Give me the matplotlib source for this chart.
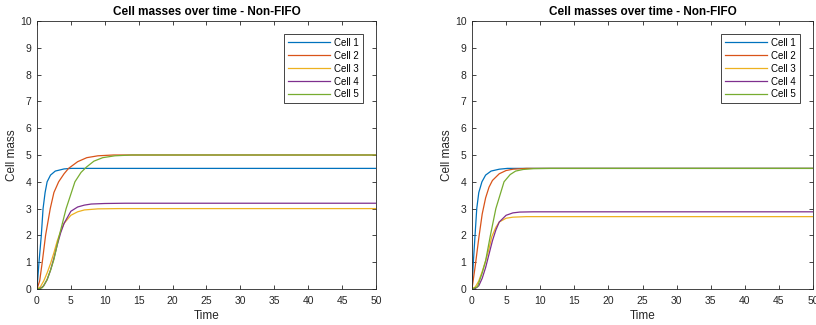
import matplotlib
matplotlib.use('Agg')
import matplotlib.pyplot as plt

plt.rcParams['font.family'] = ['Liberation Sans', 'DejaVu Sans']

# values (time, mass), left panel
t_left_c1 = [0, 0.3, 0.64, 0.9, 1.2, 1.5, 2, 2.7, 4, 5, 50]
left_c1 = [0, 1.0, 2.0, 3.0, 3.6, 4.0, 4.25, 4.4, 4.48, 4.5, 4.5]
t_left_c2 = [0, 0.4, 0.78, 1.27, 1.96, 2.5, 3.2, 4, 4.66, 6, 7.35, 9, 11.3, 50]
left_c2 = [0, 0.3, 1.0, 2.0, 3.0, 3.6, 4.0, 4.3, 4.5, 4.75, 4.9, 4.97, 5.0, 5.0]
t_left_c3 = [0, 0.5, 1, 1.5, 2, 2.5, 3, 3.5, 4, 5, 6, 7, 9, 12, 50]
left_c3 = [0, 0.08, 0.3, 0.6, 0.95, 1.35, 1.8, 2.15, 2.45, 2.75, 2.88, 2.95, 2.99, 3.0, 3.0]
t_left_c4 = [0, 0.5, 1, 1.5, 2, 2.5, 3, 3.5, 4, 5, 6, 7, 8, 10, 13, 50]
left_c4 = [0, 0.02, 0.12, 0.35, 0.7, 1.15, 1.65, 2.1, 2.45, 2.9, 3.06, 3.13, 3.17, 3.19, 3.2, 3.2]
t_left_c5 = [0, 0.8, 1.5, 2, 2.5, 3.2, 4.3, 5.6, 6.5, 7.3, 8.4, 9.7, 11.5, 14, 50]
left_c5 = [0, 0.05, 0.35, 0.7, 1.1, 1.9, 3.0, 4.0, 4.35, 4.55, 4.77, 4.9, 4.97, 5.0, 5.0]

# right panel
t_right_c1 = [0, 0.2, 0.45, 0.7, 1, 1.46, 2, 2.8, 4, 5.2, 50]
right_c1 = [0, 1.0, 2.0, 3.0, 3.6, 4.0, 4.25, 4.4, 4.47, 4.5, 4.5]
t_right_c2 = [0, 0.5, 1, 1.5, 2, 2.5, 3, 4, 5, 6, 8, 50]
right_c2 = [0, 0.9, 1.9, 2.8, 3.4, 3.8, 4.05, 4.3, 4.42, 4.47, 4.5, 4.5]
t_right_c3 = [0, 0.5, 1, 1.5, 2, 2.5, 2.9, 3.5, 4, 5, 6, 8, 50]
right_c3 = [0, 0.08, 0.3, 0.65, 1.05, 1.5, 1.95, 2.3, 2.5, 2.64, 2.68, 2.7, 2.7]
t_right_c4 = [0, 0.5, 1, 1.5, 2, 2.5, 3, 3.5, 4, 5, 6, 7, 9, 50]
right_c4 = [0, 0.02, 0.12, 0.4, 0.8, 1.3, 1.8, 2.2, 2.5, 2.75, 2.84, 2.87, 2.88, 2.88]
t_right_c5 = [0, 0.8, 1.5, 2, 2.7, 3.5, 4.7, 5.6, 6.4, 7.5, 9, 11.5, 50]
right_c5 = [0, 0.08, 0.6, 1.05, 2.0, 3.0, 4.0, 4.27, 4.4, 4.46, 4.49, 4.5, 4.5]

labels = ['Cell 1', 'Cell 2', 'Cell 3', 'Cell 4', 'Cell 5']
colors = [(0, 0.447, 0.741), (0.85, 0.325, 0.098), (0.929, 0.694, 0.125),
          (0.494, 0.184, 0.556), (0.466, 0.674, 0.188)]

left = [(t_left_c1, left_c1), (t_left_c2, left_c2), (t_left_c3, left_c3),
        (t_left_c4, left_c4), (t_left_c5, left_c5)]
right = [(t_right_c1, right_c1), (t_right_c2, right_c2), (t_right_c3, right_c3),
         (t_right_c4, right_c4), (t_right_c5, right_c5)]

fig = plt.figure(figsize=(8.16, 3.25), dpi=100)
ax1 = fig.add_axes([0.0453, 0.1108, 0.4154, 0.8246])
ax2 = fig.add_axes([0.5784, 0.1108, 0.418, 0.8246])

grey = (0.15, 0.15, 0.15)
for ax, series in [(ax1, left), (ax2, right)]:
    for (t, m), lab, c in zip(series, labels, colors):
        ax.plot(t, m, color=c, lw=0.9, label=lab)
    ax.set_xlim(0, 50)
    ax.set_ylim(0, 10)
    ax.set_xticks(range(0, 51, 5))
    ax.set_yticks(range(0, 11))
    ax.tick_params(direction='in', top=True, right=True, length=3, width=0.6,
                   labelsize=7.5, colors=grey)
    ax.tick_params(axis='x', pad=5)
    ax.tick_params(axis='y', pad=4)
    for s in ax.spines.values():
        s.set_color(grey)
        s.set_linewidth(0.6)
    ax.set_title('Cell masses over time - Non-FIFO', fontsize=8.5, fontweight='bold', pad=4)
    ax.set_xlabel('Time', fontsize=8.5, color=grey, labelpad=3)
    ax.set_ylabel('Cell mass', fontsize=8.5, color=grey, labelpad=1)
    leg = ax.legend(loc='upper right', bbox_to_anchor=(0.975, 0.97), fontsize=7,
                    handlelength=4.3, handletextpad=0.4, labelspacing=0.3,
                    borderpad=0.4, fancybox=False, framealpha=1, edgecolor=grey)
    leg.get_frame().set_linewidth(0.6)

fig.savefig('out.png', dpi=100)
